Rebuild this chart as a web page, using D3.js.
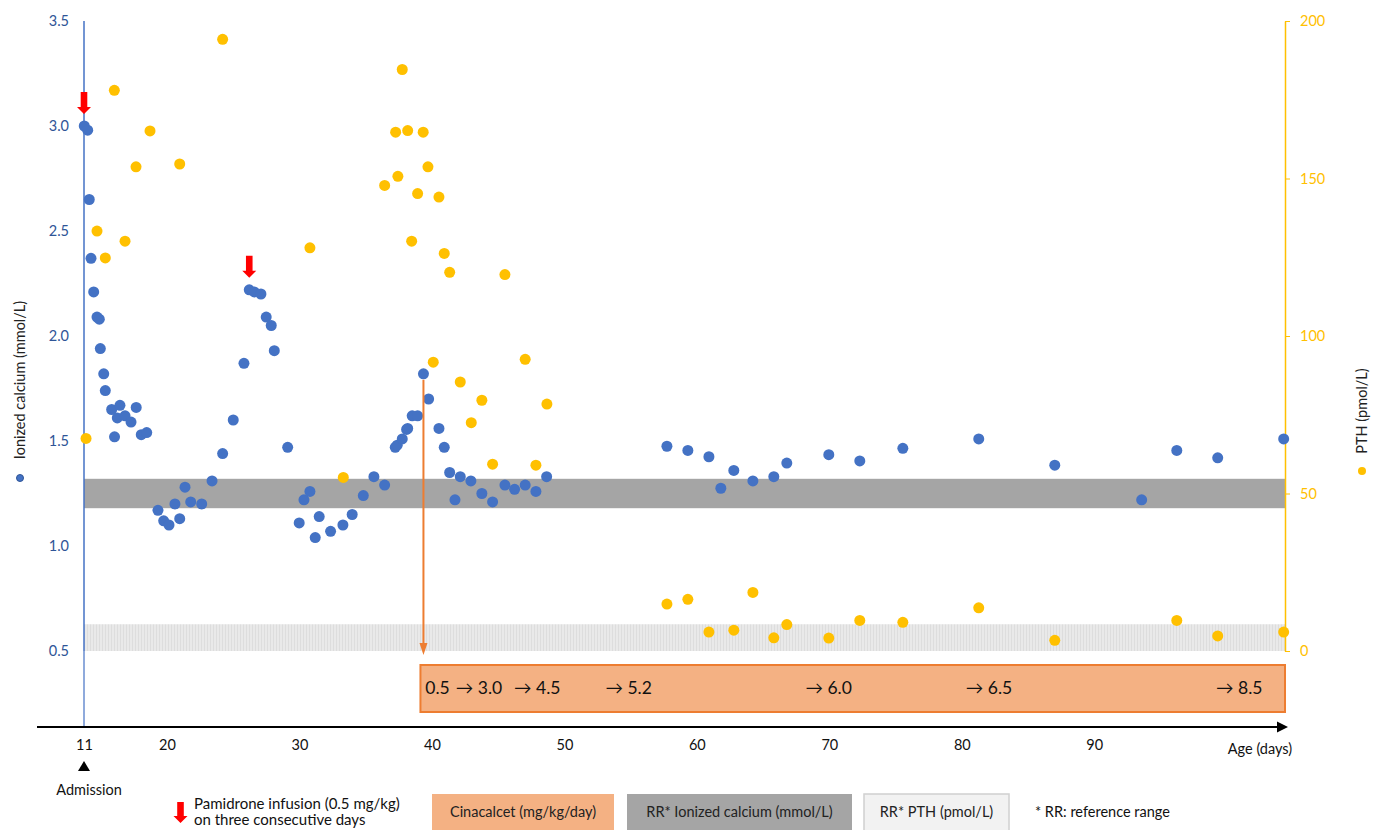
<!DOCTYPE html>
<html>
<head>
<meta charset="utf-8">
<script src="https://cdn.jsdelivr.net/npm/d3@7"></script>
<style>
  html, body { margin: 0; padding: 0; background: #fff; }
  svg { display: block; font-family: Lato, "Open Sans", sans-serif; }
</style>
</head>
<body>
<svg id="chart" width="1374" height="830"></svg>
<script>
// ---------------- DATA ----------------
// Ionized calcium (mmol/L) by age (days)
const caDays = [11.03, 11.40, 11.57, 11.76, 12.05, 12.41, 12.66, 12.77, 13.14, 13.31,
  14.00, 14.90, 14.61, 15.45, 16.10, 16.66, 14.31, 17.21, 17.80, 19.02,
  19.64, 20.15, 20.60, 20.96, 21.36, 21.79, 22.62, 23.40, 24.20, 25.00,
  25.81, 26.21, 26.59, 27.09, 27.49, 27.87, 28.10, 29.11, 29.98, 30.34,
  30.79, 31.19, 31.49, 32.35, 33.28, 33.98, 34.82, 35.62, 36.43, 37.23,
  37.38, 37.76, 38.09, 38.17, 38.51, 38.92, 39.36, 39.75, 40.53, 40.93,
  41.34, 41.74, 42.14, 42.94, 43.77, 44.58, 45.51, 46.24, 47.04, 47.85,
  48.66, 57.74, 59.32, 60.91, 61.81, 62.79, 64.23, 65.81, 66.79, 69.96,
  72.30, 75.55, 81.28, 87.02, 93.58, 96.23, 99.32, 104.30];
const caValues = [3.00, 2.98, 2.65, 2.37, 2.21, 2.09, 2.08, 1.94, 1.82, 1.74,
  1.65, 1.67, 1.61, 1.62, 1.59, 1.66, 1.52, 1.53, 1.54, 1.17,
  1.12, 1.10, 1.20, 1.13, 1.28, 1.21, 1.20, 1.31, 1.44, 1.60,
  1.87, 2.22, 2.21, 2.20, 2.09, 2.05, 1.93, 1.47, 1.11, 1.22,
  1.26, 1.04, 1.14, 1.07, 1.10, 1.15, 1.24, 1.33, 1.29, 1.47,
  1.48, 1.51, 1.555, 1.56, 1.62, 1.62, 1.82, 1.70, 1.56, 1.47,
  1.35, 1.22, 1.33, 1.31, 1.25, 1.21, 1.29, 1.27, 1.29, 1.26,
  1.33, 1.475, 1.455, 1.425, 1.275, 1.36, 1.31, 1.33, 1.395, 1.435,
  1.405, 1.465, 1.51, 1.385, 1.22, 1.455, 1.42, 1.51];

// PTH (pmol/L) by age (days)
const pthDays = [11.22, 12.41, 13.31, 14.29, 15.45, 16.64, 18.16, 20.96, 24.20, 30.79,
  33.31, 36.43, 37.26, 37.43, 37.76, 38.17, 38.47, 38.92, 39.34, 39.70,
  40.10, 40.53, 40.93, 41.34, 42.14, 42.97, 43.77, 44.58, 45.51, 47.04,
  47.85, 48.68, 57.74, 59.32, 60.91, 62.79, 64.23, 65.81, 66.79, 69.96,
  72.30, 75.55, 81.28, 87.02, 96.23, 99.32, 104.30];
const pthValues = [67.5, 133.3, 124.8, 178.0, 130.1, 153.7, 165.1, 154.6, 194.2, 128.0,
  55.1, 147.8, 164.7, 150.7, 184.6, 165.2, 130.1, 145.2, 164.7, 153.7,
  91.7, 144.1, 126.2, 120.2, 85.4, 72.5, 79.6, 59.3, 119.5, 92.6,
  59.0, 78.4, 14.9, 16.4, 6.0, 6.6, 18.6, 4.2, 8.4, 4.1,
  9.7, 9.1, 13.7, 3.4, 9.7, 4.8, 6.0];

// Reference ranges
const caRange = [1.18, 1.32];     // mmol/L
const pthRange = [0, 8.5];        // pmol/L

// Pamidronate infusions (day, Ca value just below the arrow)
const pamidronateDays = [11, 26.21];
const pamidronateCa = [3.00, 2.22];

// Cinacalcet start and dose changes
const cinacalcetStartDay = 39.36;
const cinacalcetStartCa = 1.82;
const doseDays = [39.5, 41.8, 46.2, 53.1, 68.2, 80.3, 99.2];
const doseLabels = ["0.5", "\u2192 3.0", "\u2192 4.5", "\u2192 5.2", "\u2192 6.0", "\u2192 6.5", "\u2192 8.5"];

// Axis ticks
const xTicks = [11, 20, 30, 40, 50, 60, 70, 80, 90];
const caTicks = [0.5, 1.0, 1.5, 2.0, 2.5, 3.0, 3.5];
const pthTicks = [0, 50, 100, 150, 200];

// ---------------- CHART ----------------
const BLUE = "#4472C4", YELLOW = "#FFC000", ORANGE = "#ED7D31", ORANGE_FILL = "#F4B183";
const svg = d3.select("#chart");

const x = d3.scaleLinear().domain([11, 20, 104.4]).range([84, 167, 1285]);
const yCa = d3.scaleLinear().domain([0.5, 3.5]).range([651, 21]);
const yPth = d3.scaleLinear().domain([0, 200]).range([651, 21]);

const left = x.range()[0], right = x.range()[2];

// pattern for PTH range band
const defs = svg.append("defs");
const pat = defs.append("pattern").attr("id", "stripes").attr("patternUnits", "userSpaceOnUse")
  .attr("width", 3).attr("height", 10);
pat.append("rect").attr("width", 3).attr("height", 10).attr("fill", "#E9E9E9");
pat.append("rect").attr("width", 1).attr("height", 10).attr("fill", "#DDDDDD");

// bands
svg.append("rect")
  .attr("x", left).attr("width", right - left)
  .attr("y", yCa(caRange[1])).attr("height", yCa(caRange[0]) - yCa(caRange[1]))
  .attr("fill", "#A5A5A5");
svg.append("rect")
  .attr("x", left).attr("width", right - left)
  .attr("y", yPth(pthRange[1])).attr("height", yPth(pthRange[0]) - yPth(pthRange[1]))
  .attr("fill", "url(#stripes)");

// left axis
const gL = svg.append("g").attr("transform", `translate(${left},0)`)
  .call(d3.axisLeft(yCa).tickValues(caTicks).tickFormat(d3.format(".1f")).tickSize(0).tickPadding(15));
gL.select(".domain").remove();
gL.selectAll("text").attr("fill", "#2F5597").style("font-size", "14.5px").style("font-family", "Lato, sans-serif");

svg.append("line").attr("x1", left).attr("x2", left).attr("y1", yCa(3.5)).attr("y2", yCa(0.5))
  .attr("stroke", BLUE).attr("stroke-width", 1.5);
svg.append("line").attr("x1", left).attr("x2", left).attr("y1", yCa(0.5)).attr("y2", 727)
  .attr("stroke", "#8FAADC").attr("stroke-width", 2);

// right axis
const gR = svg.append("g").attr("transform", `translate(${right},0)`)
  .call(d3.axisRight(yPth).tickValues(pthTicks).tickSize(5).tickSizeOuter(0).tickPadding(10));
gR.select(".domain").attr("stroke", YELLOW).attr("stroke-width", 1.5);
gR.selectAll(".tick line").attr("stroke", YELLOW);
gR.selectAll("text").attr("fill", YELLOW).style("font-size", "14.5px").style("font-family", "Lato, sans-serif");

// axis titles with legend markers
svg.append("text").attr("transform", `translate(25,${380}) rotate(-90)`)
  .attr("text-anchor", "middle").style("font-size", "14.5px").attr("fill", "#222")
  .text("Ionized calcium (mmol/L)");
svg.append("circle").attr("cx", 20).attr("cy", 478).attr("r", 3.5).attr("fill", BLUE).attr("stroke", "#2F5597").attr("stroke-width", 1);
svg.append("text").attr("transform", `translate(1367,${411}) rotate(-90)`)
  .attr("text-anchor", "middle").style("font-size", "14.5px").attr("fill", "#222")
  .text("PTH (pmol/L)");
svg.append("circle").attr("cx", 1362).attr("cy", 471).attr("r", 4).attr("fill", YELLOW);

// cinacalcet box
const boxX = x(cinacalcetStartDay) - 3;
svg.append("rect").attr("x", boxX).attr("y", 665).attr("width", right - boxX).attr("height", 47)
  .attr("fill", ORANGE_FILL).attr("stroke", ORANGE).attr("stroke-width", 2);
svg.append("g").selectAll("text").data(doseDays).join("text")
  .attr("x", d => x(d)).attr("y", 694)
  .style("font-size", "17.5px").attr("fill", "#111")
  .text((d, i) => doseLabels[i]);

// data points
svg.append("g").selectAll("circle").data(caDays).join("circle")
  .attr("cx", d => x(d)).attr("cy", (d, i) => yCa(caValues[i])).attr("r", 5.5)
  .attr("fill", BLUE);
svg.append("g").selectAll("circle").data(pthDays).join("circle")
  .attr("cx", d => x(d)).attr("cy", (d, i) => yPth(pthValues[i])).attr("r", 5.5)
  .attr("fill", YELLOW);

// cinacalcet start arrow
const cx0 = x(cinacalcetStartDay);
svg.append("line").attr("x1", cx0).attr("x2", cx0)
  .attr("y1", yCa(cinacalcetStartCa) + 6).attr("y2", yCa(0.5) - 2)
  .attr("stroke", ORANGE).attr("stroke-width", 2);
svg.append("path")
  .attr("d", `M${cx0 - 4},${yCa(0.5) - 8} L${cx0 + 4},${yCa(0.5) - 8} L${cx0},${yCa(0.5) + 4} Z`)
  .attr("fill", ORANGE);

// pamidronate arrows
function downArrow(cx, tip, len) {
  const hw = 7, sw = 3.3, hl = 7;
  return `M${cx - sw},${tip - len} L${cx + sw},${tip - len} L${cx + sw},${tip - hl} L${cx + hw},${tip - hl} L${cx},${tip} L${cx - hw},${tip - hl} L${cx - sw},${tip - hl} Z`;
}
svg.append("g").selectAll("path").data(pamidronateDays).join("path")
  .attr("d", (d, i) => downArrow(x(d), yCa(pamidronateCa[i]) - 12, 22))
  .attr("fill", "#FF0000");

// x axis
const gX = svg.append("g").attr("transform", "translate(0,727)")
  .call(d3.axisBottom(x).tickValues(xTicks).tickFormat(d3.format("d")).tickSize(0).tickPadding(13));
gX.select(".domain").remove();
gX.selectAll("text").attr("fill", "#111").style("font-size", "14.5px").style("font-family", "Lato, sans-serif");
svg.append("line").attr("x1", 37).attr("x2", 1280).attr("y1", 727).attr("y2", 727)
  .attr("stroke", "#000").attr("stroke-width", 2);
svg.append("path").attr("d", "M1277,721.5 L1288,727 L1277,732.5 Z").attr("fill", "#000");
svg.append("text").attr("x", 1260).attr("y", 754).attr("text-anchor", "middle")
  .style("font-size", "14.5px").attr("fill", "#111").text("Age (days)");

// admission marker
svg.append("path").attr("d", `M${x(11)},761 L${x(11) + 6},771 L${x(11) - 6},771 Z`).attr("fill", "#000");
svg.append("text").attr("x", 89).attr("y", 795).attr("text-anchor", "middle")
  .style("font-size", "14.5px").attr("fill", "#111").text("Admission");

// bottom legend
svg.append("path").attr("d", downArrow(180.5, 823, 21)).attr("fill", "#FF0000");
svg.append("text").attr("x", 194).attr("y", 809).style("font-size", "15px").attr("fill", "#111")
  .text("Pamidrone infusion (0.5 mg/kg)");
svg.append("text").attr("x", 194).attr("y", 825).style("font-size", "15px").attr("fill", "#111")
  .text("on three consecutive days");

const legendBoxes = [
  { x: 432, w: 182, fill: ORANGE_FILL, stroke: "none", label: "Cinacalcet (mg/kg/day)" },
  { x: 627, w: 225, fill: "#A5A5A5", stroke: "none", label: "RR* Ionized calcium (mmol/L)" },
  { x: 864, w: 145, fill: "#F2F2F2", stroke: "#D0D0D0", label: "RR* PTH (pmol/L)" }
];
const lg = svg.append("g").selectAll("g").data(legendBoxes).join("g");
lg.append("rect").attr("x", d => d.x).attr("y", 794).attr("width", d => d.w).attr("height", 40)
  .attr("fill", d => d.fill).attr("stroke", d => d.stroke).attr("stroke-width", 1.5);
lg.append("text").attr("x", d => d.x + d.w / 2).attr("y", 817).attr("text-anchor", "middle")
  .style("font-size", "14.5px").attr("fill", "#222").text(d => d.label);
svg.append("text").attr("x", 1035).attr("y", 817).style("font-size", "14.5px").attr("fill", "#111")
  .text("* RR: reference range");
</script>
</body>
</html>
